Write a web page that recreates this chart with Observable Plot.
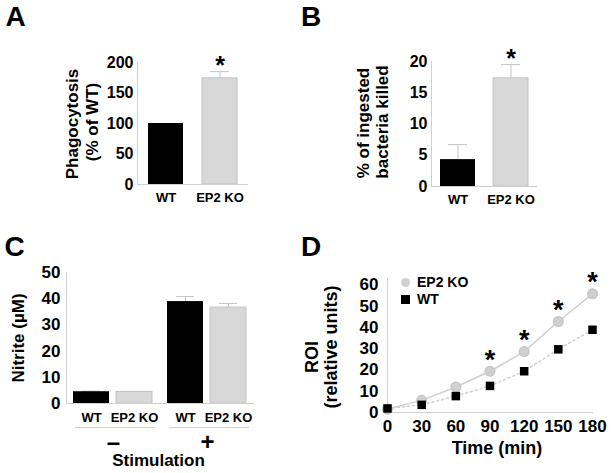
<!DOCTYPE html>
<html>
<head>
<meta charset="utf-8">
<script src="https://cdn.jsdelivr.net/npm/d3@7"></script>
<script src="https://cdn.jsdelivr.net/npm/@observablehq/plot@0.6"></script>
<style>
  body { margin: 0; background: #fff; }
  #fig { position: relative; width: 611px; height: 473px; overflow: hidden; background: #fff;
         font-family: "Liberation Sans", Arial, sans-serif; font-weight: bold; color: #000; }
  .panel { position: absolute; }
  .panel svg { position: absolute; left: 0; top: 0; max-width: none !important; }
  .t { position: absolute; line-height: 1; white-space: nowrap; }
</style>
</head>
<body>
<div id="fig"></div>
<script>
// ---------- data ----------
const genotypes = ["WT", "EP2 KO"];
// Panel A: phagocytosis (% of WT)
const phagoMean = [100, 174];
const phagoErr = [0, 11];
const phagoSig = [false, true];
const phagoTicks = [0, 50, 100, 150, 200];
// Panel B: % of ingested bacteria killed
const killMean = [4.3, 17.3];
const killErr = [2.4, 2.2];
const killSig = [false, true];
const killTicks = [0, 5, 10, 15, 20];
// Panel C: nitrite (µM)
const stimGroups = ["–", "+"];
const nitriteStim = ["–", "–", "+", "+"];
const nitriteGeno = ["WT", "EP2 KO", "WT", "EP2 KO"];
const nitriteMean = [4.5, 4.4, 38.9, 36.6];
const nitriteErr = [0.2, 0.2, 1.9, 1.6];
const nitriteTicks = [0, 10, 20, 30, 40, 50];
// Panel D: ROI (relative units) over time
const timeMin = [0, 30, 60, 90, 120, 150, 180];
const roiKO = [1.6, 5.7, 12.0, 19.4, 28.6, 42.8, 55.8];
const roiKOErr = [0.3, 0.5, 0.7, 0.8, 1.0, 1.2, 2.5];
const roiWT = [1.9, 3.6, 7.7, 12.5, 19.4, 29.7, 38.9];
const roiSig = [false, false, false, true, true, true, true];
const roiTicks = [0, 10, 20, 30, 40, 50, 60];

// ---------- style ----------
const FONT = '"Liberation Sans", Arial, sans-serif';
const BLACK = "#000000";
const GRAY = "#d8d8d8";
const GRAY_EDGE = "#c2c2c2";
const AXIS = "#d0d0d0";
const ERR = "#c4c4c4";
const svgStyle = {fontFamily: FONT, fontWeight: "bold", color: "#000", background: "transparent", overflow: "visible", maxWidth: "none"};

const fig = document.getElementById("fig");
function panel(left, top, w, h) {
  const d = document.createElement("div");
  d.className = "panel";
  d.style.left = left + "px"; d.style.top = top + "px";
  d.style.width = w + "px"; d.style.height = h + "px";
  fig.appendChild(d);
  return d;
}
function txt(str, cx, cy, size, rotate = false, anchor = "center") {
  const d = document.createElement("div");
  d.className = "t";
  d.textContent = str;
  d.style.fontSize = size + "px";
  d.style.left = cx + "px"; d.style.top = cy + "px";
  const tx = anchor === "start" ? "0" : "-50%";
  d.style.transform = `translate(${tx},-50%)` + (rotate ? " rotate(-90deg)" : "");
  fig.appendChild(d);
  return d;
}

// ---------- two-bar panels (A, B) ----------
function twoBar({means, errs, sig, ticks, ymax, width, height, ml, mr, mt, mb, pi, po}) {
  const data = genotypes.map((g, i) => ({geno: g, mean: means[i], err: errs[i], sig: sig[i]}));
  const withErr = data.filter(d => d.err > 0);
  return Plot.plot({
    width, height, marginLeft: ml, marginRight: mr, marginTop: mt, marginBottom: mb,
    style: svgStyle,
    x: {domain: genotypes, paddingInner: pi, paddingOuter: po, label: null},
    y: {domain: [0, ymax], label: null},
    marks: [
      Plot.ruleX(withErr, {x: "geno", y1: "mean", y2: d => d.mean + d.err, stroke: ERR}),
      Plot.tickY(withErr, {x: "geno", y: d => d.mean + d.err, stroke: ERR, insetLeft: 8, insetRight: 8}),
      Plot.barY(data.filter(d => d.geno === "WT"), {x: "geno", y: "mean", fill: BLACK}),
      Plot.barY(data.filter(d => d.geno !== "WT"), {x: "geno", y: "mean", fill: GRAY, stroke: GRAY_EDGE}),
      Plot.frame({anchor: "left", stroke: AXIS}),
      Plot.ruleY([0], {stroke: AXIS}),
      Plot.axisY({ticks, tickSize: 0, tickPadding: 4, fontSize: 16, label: null}),
      Plot.axisX({tickSize: 0, tickPadding: 8, fontSize: 13, label: null}),
      Plot.text(data.filter(d => d.sig), {x: "geno", y: d => d.mean + d.err, text: () => "*", dy: -6, fontSize: 25, fontWeight: "bold"})
    ]
  });
}

// Panel A
const pA = panel(0, 0, 300, 230);
pA.appendChild(twoBar({means: phagoMean, errs: phagoErr, sig: phagoSig, ticks: phagoTicks, ymax: 200,
  width: 300, height: 230, ml: 137, mr: 52, mt: 62, mb: 46, pi: 0.345, po: 0.2}));
// Panel B
const pB = panel(300, 0, 311, 230);
pB.appendChild(twoBar({means: killMean, errs: killErr, sig: killSig, ticks: killTicks, ymax: 20,
  width: 311, height: 230, ml: 131, mr: 74, mt: 61, mb: 44, pi: 0.34, po: 0.17}));

// Panel C
const dataC = nitriteStim.map((s, i) => ({stim: s, geno: nitriteGeno[i], mean: nitriteMean[i], err: nitriteErr[i]}));
const pC = panel(0, 230, 300, 243);
pC.appendChild(Plot.plot({
  width: 300, height: 243, marginLeft: 65, marginRight: 46, marginTop: 42, marginBottom: 70,
  style: svgStyle,
  fx: {domain: stimGroups, padding: 0, label: null},
  x: {domain: genotypes, paddingInner: 0.159, paddingOuter: 0.153, label: null},
  y: {domain: [0, 50], label: null},
  marks: [
    Plot.ruleX(dataC, {fx: "stim", x: "geno", y1: "mean", y2: d => d.mean + d.err, stroke: ERR}),
    Plot.tickY(dataC, {fx: "stim", x: "geno", y: d => d.mean + d.err, stroke: ERR, insetLeft: 9, insetRight: 9}),
    Plot.barY(dataC.filter(d => d.geno === "WT"), {fx: "stim", x: "geno", y: "mean", fill: BLACK}),
    Plot.barY(dataC.filter(d => d.geno !== "WT"), {fx: "stim", x: "geno", y: "mean", fill: GRAY, stroke: GRAY_EDGE}),
    Plot.frame({anchor: "left", facetAnchor: "left", stroke: AXIS}),
    Plot.ruleY([0], {stroke: AXIS}),
    Plot.ruleY([0], {stroke: AXIS, dy: 24, insetLeft: 9, insetRight: 5}),
    Plot.axisY({ticks: nitriteTicks, tickSize: 0, tickPadding: 6, fontSize: 17, label: null}),
    Plot.axisX({tickSize: 0, tickPadding: 9, fontSize: 13, label: null}),
    Plot.axisFx({anchor: "bottom", tickSize: 0, tickPadding: 29, fontSize: 24, label: null})
  ]
}));

// Panel D
const dKO = timeMin.map((t, i) => ({t, v: roiKO[i], e: roiKOErr[i], sig: roiSig[i]}));
const dWT = timeMin.map((t, i) => ({t, v: roiWT[i]}));
const pD = panel(300, 230, 311, 243);
pD.appendChild(Plot.plot({
  width: 311, height: 243, marginLeft: 87, marginRight: 19, marginTop: 48, marginBottom: 61,
  style: svgStyle,
  x: {domain: [0, 180], label: null},
  y: {domain: [0, 63], label: null},
  marks: [
    Plot.frame({anchor: "left", stroke: AXIS}),
    Plot.frame({anchor: "bottom", stroke: AXIS}),
    Plot.axisX({ticks: timeMin, tickSize: 0, tickPadding: 7, fontSize: 17, label: null}),
    Plot.axisY({ticks: roiTicks, tickSize: 0, tickPadding: 9, fontSize: 17, label: null}),
    Plot.line(dWT, {x: "t", y: "v", stroke: "#cfcfcf", strokeWidth: 1.5, strokeDasharray: "2,3"}),
    Plot.line(dKO, {x: "t", y: "v", stroke: "#cfcfcf", strokeWidth: 1.5}),
    Plot.ruleX(dKO, {x: "t", y1: d => d.v - d.e, y2: d => d.v + d.e, stroke: ERR}),
    Plot.dot(dKO, {x: "t", y: "v", r: 4.8, fill: "#d0d0d0", stroke: "#c6c6c6"}),
    Plot.dot(dWT, {x: "t", y: "v", r: 4.8, symbol: "square", fill: BLACK}),
    Plot.text(dKO.filter(d => d.sig), {x: "t", y: "v", text: () => "*", dy: -11, fontSize: 27, fontWeight: "bold"})
  ]
}));

// ---------- text overlays ----------
const pl = [["A", 15.5, 17], ["B", 311, 17], ["C", 14.5, 247], ["D", 311, 246.5]];
for (const [s, x, y] of pl) txt(s, x, y, 28);

txt("Phagocytosis", 72, 123.5, 17, true);
txt("(% of WT)", 91.5, 122, 17, true);
txt("% of ingested", 363, 122.5, 17, true);
txt("bacteria killed", 381.5, 122, 17, true);
txt("Nitrite (µM)", 18, 337.5, 17, true);
txt("Stimulation", 158.5, 460, 17);
txt("ROI", 311.5, 357, 18, true);
txt("(relative units)", 330.5, 347, 18, true);
txt("Time (min)", 497, 448, 18);

// legend (panel D)
const legend = [["EP2 KO", "circle", 282], ["WT", "square", 299]];
for (const [name, shape, y] of legend) {
  const sw = document.createElement("div");
  sw.style.cssText = `position:absolute;left:${405 - 4.5}px;top:${y - 4.5}px;width:9px;height:9px;` +
    (shape === "circle" ? "border-radius:50%;background:#d0d0d0;" : "background:#000;");
  fig.appendChild(sw);
  txt(name, 417, y, 14, false, "start");
}
</script>
</body>
</html>
